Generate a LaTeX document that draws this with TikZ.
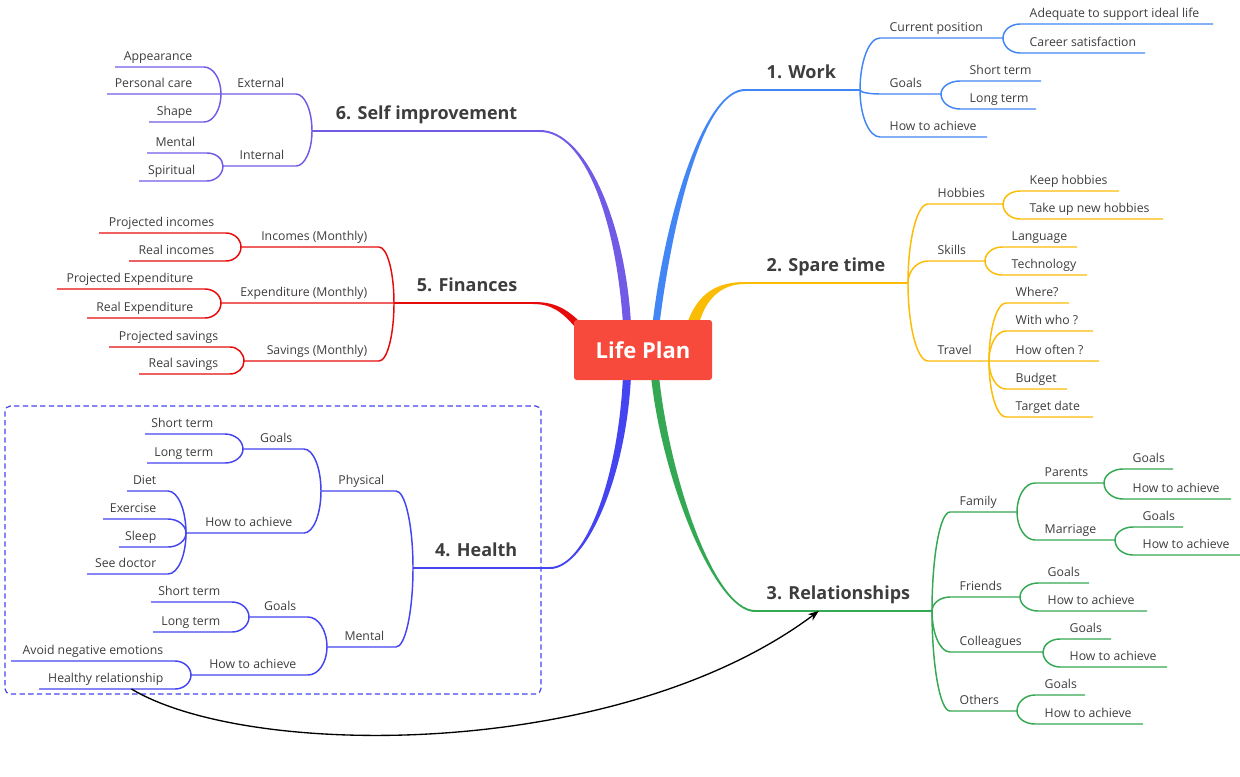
\documentclass[tikz,border=0pt]{standalone}
\usepackage{fontspec}
\setmainfont{Open Sans}
\usetikzlibrary{arrows.meta,calc,backgrounds}
\definecolor{txt}{RGB}{61,61,61}
\definecolor{hubred}{RGB}{248,74,60}
\definecolor{cwork}{RGB}{66,133,244}
\definecolor{cspare}{RGB}{251,188,5}
\definecolor{crel}{RGB}{52,168,83}
\definecolor{chealth}{RGB}{68,68,240}
\definecolor{cfin}{RGB}{230,10,10}
\definecolor{cself}{RGB}{115,90,230}

\begin{document}
\begin{tikzpicture}[x=0.75pt, y=-0.75pt, >=Stealth,
  rlbl/.style={anchor=base west, inner sep=0pt, text=txt, font=\fontsize{9.2}{11}\selectfont},
  llbl/.style={rlbl, anchor=base east},
  topic/.style={inner sep=0pt, text=txt, font=\fontsize{13.5}{16}\selectfont\bfseries},
  hub/.style={fill=hubred, text=white, rounded corners=2pt, minimum width=103.5pt,
    minimum height=45pt, font=\fontsize{16.5}{20}\selectfont\bfseries}]
\useasboundingbox (0,0) rectangle (1240,776);

% central topic
\node[hub] (root) at (643,350) {Life Plan};

% 1. Work
\begin{scope}[draw=cwork, line width=1.1pt]
\coordinate (work-a) at (745,90); \coordinate (work-b) at (860,90);
\node[topic, anchor=base west] (work) at (766,78) {1. Work};
\draw[line width=1.5pt] (work-a) -- (work-b);
\foreach \p/\n/\xa/\xb/\y/\t in {
  work/wcur/880/1003/38/Current position,
  work/wgoal/880/941/94/Goals,
  work/whow/880/987/137/How to achieve,
  wcur/wade/1020/1213/24/Adequate to support ideal life,
  wcur/wsat/1020/1145/53/Career satisfaction,
  wgoal/wshort/960/1041/81/Short term,
  wgoal/wlong/960/1036/109/Long term}{
  \coordinate (\n-a) at (\xa,\y); \coordinate (\n-b) at (\xb,\y);
  \node[rlbl] (\n) at (\xa+9,\y-7) {\t};
  \draw (\p-b) .. controls ($(\p-b)!0.55!(\p-b |- \n-a)$) and ($(\n-a)!0.55!(\p-b |- \n-a)$) .. (\n-a) -- (\n-b);
}
\end{scope}

% 2. Spare time
\begin{scope}[draw=cspare, line width=1.1pt]
\coordinate (spare-a) at (745,283); \coordinate (spare-b) at (908,283);
\node[topic, anchor=base west] (spare) at (766,271) {2. Spare time};
\draw[line width=1.5pt] (spare-a) -- (spare-b);
\foreach \p/\n/\xa/\xb/\y/\t in {
  spare/shob/928/1003/204/Hobbies,
  spare/sski/928/985/261/Skills,
  spare/stra/928/989/361/Travel,
  shob/skeep/1020/1119/191/Keep hobbies,
  shob/snew/1020/1163/219/Take up new hobbies,
  sski/slang/1002/1077/247/Language,
  sski/stech/1002/1087/275/Technology,
  stra/swhere/1006/1069/303/Where?,
  stra/swho/1006/1093/331/With who ?,
  stra/soften/1006/1099/361/How often ?,
  stra/sbudget/1006/1067/389/Budget,
  stra/sdate/1006/1093/417/Target date}{
  \coordinate (\n-a) at (\xa,\y); \coordinate (\n-b) at (\xb,\y);
  \node[rlbl] (\n) at (\xa+9,\y-7) {\t};
  \draw (\p-b) .. controls ($(\p-b)!0.55!(\p-b |- \n-a)$) and ($(\n-a)!0.55!(\p-b |- \n-a)$) .. (\n-a) -- (\n-b);
}
\end{scope}

% 3. Relationships
\begin{scope}[draw=crel, line width=1.1pt]
\coordinate (rel-a) at (755,611); \coordinate (rel-b) at (932,611);
\node[topic, anchor=base west] (rel) at (766,599) {3. Relationships};
\draw[line width=1.5pt] (rel-a) -- (rel-b);
\foreach \p/\n/\xa/\xb/\y/\t in {
  rel/rfam/950/1017/512/Family,
  rel/rfri/950/1020/597/Friends,
  rel/rcol/950/1043/652/Colleagues,
  rel/roth/950/1017/711/Others,
  rfam/rpar/1035/1104/483/Parents,
  rfam/rmar/1035/1115/540/Marriage,
  rpar/rpargoal/1123/1173/469/Goals,
  rpar/rparhow/1123/1231/499/How to achieve,
  rmar/rmargoal/1133/1183/527/Goals,
  rmar/rmarhow/1133/1240/555/How to achieve,
  rfri/rfrigoal/1038/1089/583/Goals,
  rfri/rfrihow/1038/1147/611/How to achieve,
  rcol/rcolgoal/1060/1111/639/Goals,
  rcol/rcolhow/1060/1167/667/How to achieve,
  roth/rothgoal/1035/1085/695/Goals,
  roth/rothhow/1035/1143/724/How to achieve}{
  \coordinate (\n-a) at (\xa,\y); \coordinate (\n-b) at (\xb,\y);
  \node[rlbl] (\n) at (\xa+9,\y-7) {\t};
  \draw (\p-b) .. controls ($(\p-b)!0.55!(\p-b |- \n-a)$) and ($(\n-a)!0.55!(\p-b |- \n-a)$) .. (\n-a) -- (\n-b);
}
\end{scope}

% 4. Health
\begin{scope}[draw=chealth, line width=1.1pt]
\coordinate (health-a) at (413,568); \coordinate (health-b) at (550,568);
\node[topic, anchor=base east] (health) at (518,556) {4. Health};
\draw[line width=1.5pt] (health-a) -- (health-b);
\foreach \p/\n/\xa/\xb/\y/\t in {
  health/hphy/321/396/491/Physical,
  health/hmen/327/396/647/Mental,
  hphy/hpgoal/243/304/449/Goals,
  hphy/hphow/186/304/533/How to achieve,
  hpgoal/hpshort/145/225/434/Short term,
  hpgoal/hplong/147/225/463/Long term,
  hphow/hpdiet/127/168/491/Diet,
  hphow/hpex/103/168/519/Exercise,
  hphow/hpsleep/119/168/547/Sleep,
  hphow/hpdoc/87/168/574/See doctor,
  hmen/hmgoal/249/308/617/Goals,
  hmen/hmhow/191/308/675/How to achieve,
  hmgoal/hmshort/151/232/602/Short term,
  hmgoal/hmlong/153/232/632/Long term,
  hmhow/hmavoid/11/175/661/Avoid negative emotions,
  hmhow/hmrel/39/175/689/Healthy relationship}{
  \coordinate (\n-a) at (\xa,\y); \coordinate (\n-b) at (\xb,\y);
  \node[llbl] (\n) at (\xb-11,\y-7) {\t};
  \draw (\p-a) .. controls ($(\p-a)!0.55!(\p-a |- \n-b)$) and ($(\n-b)!0.55!(\p-a |- \n-b)$) .. (\n-b) -- (\n-a);
}
\draw[line width=0.9pt, dash pattern=on 4pt off 2.5pt, rounded corners=4pt] (5,406) rectangle (541,694);
\end{scope}

% 5. Finances
\begin{scope}[draw=cfin, line width=1.1pt]
\coordinate (fin-a) at (394,303); \coordinate (fin-b) at (533,303);
\node[topic, anchor=base east] (fin) at (518,291) {5. Finances};
\draw[line width=1.5pt] (fin-a) -- (fin-b);
\foreach \p/\n/\xa/\xb/\y/\t in {
  fin/finc/241/379/247/Incomes (Monthly),
  fin/fexp/221/379/303/Expenditure (Monthly),
  fin/fsav/244/379/361/Savings (Monthly),
  finc/fpinc/99/226/233/Projected incomes,
  finc/frinc/129/226/261/Real incomes,
  fexp/fpexp/57/205/289/Projected Expenditure,
  fexp/frexp/87/205/318/Real Expenditure,
  fsav/fpsav/109/230/347/Projected savings,
  fsav/frsav/139/230/374/Real savings}{
  \coordinate (\n-a) at (\xa,\y); \coordinate (\n-b) at (\xb,\y);
  \node[llbl] (\n) at (\xb-11,\y-7) {\t};
  \draw (\p-a) .. controls ($(\p-a)!0.55!(\p-a |- \n-b)$) and ($(\n-b)!0.55!(\p-a |- \n-b)$) .. (\n-b) -- (\n-a);
}
\end{scope}

% 6. Self improvement
\begin{scope}[draw=cself, line width=1.1pt]
\coordinate (self-a) at (312,131); \coordinate (self-b) at (540,131);
\node[topic, anchor=base east] (self) at (518,119) {6. Self improvement};
\draw[line width=1.5pt] (self-a) -- (self-b);
\foreach \p/\n/\xa/\xb/\y/\t in {
  self/iext/221/296/94/External,
  self/iint/223/296/166/Internal,
  iext/iapp/115/204/67/Appearance,
  iext/icare/107/204/94/Personal care,
  iext/ishape/149/204/122/Shape,
  iint/iment/147/207/153/Mental,
  iint/ispir/139/207/181/Spiritual}{
  \coordinate (\n-a) at (\xa,\y); \coordinate (\n-b) at (\xb,\y);
  \node[llbl] (\n) at (\xb-11,\y-7) {\t};
  \draw (\p-a) .. controls ($(\p-a)!0.55!(\p-a |- \n-b)$) and ($(\n-b)!0.55!(\p-a |- \n-b)$) .. (\n-b) -- (\n-a);
}
\end{scope}

% thick tapered links from the central topic
\begin{pgfonlayer}{background}
\fill[cwork] ($(root.north)+(9.5,4)$) .. controls (666,210) and (705,89) .. ($(work-a)+(0,-1)$)
  -- ($(work-a)+(0,1)$) .. controls (705,91) and (674,210) .. ($(root.north)+(16.5,4)$) -- cycle;
\fill[cspare] ($(root.north)+(44,4)$) .. controls (698,292) and (718,282) .. ($(spare-a)+(0,-1)$)
  -- ($(spare-a)+(0,1)$) .. controls (722,284) and (706,298) .. ($(root.north)+(56,4)$) -- cycle;
\fill[crel] ($(root.south)+(8,-4)$) .. controls (662,480) and (715,612) .. ($(rel-a)+(0,1)$)
  -- ($(rel-a)+(0,-1)$) .. controls (715,610) and (670,480) .. ($(root.south)+(16,-4)$) -- cycle;
\fill[chealth] ($(root.south)+(-20,-4)$) .. controls (618,480) and (585,567) .. ($(health-b)+(0,-1)$)
  -- ($(health-b)+(0,1)$) .. controls (585,569) and (626,480) .. ($(root.south)+(-12,-4)$) -- cycle;
\fill[cfin] ($(root.north west)+(10,6)$) .. controls (565,306) and (552,302) .. ($(fin-b)+(0,-1)$)
  -- ($(fin-b)+(0,1)$) .. controls (552,304) and (562,312) .. ($(root.north west)+(2,8)$) -- cycle;
\fill[cself] ($(root.north)+(-20,4)$) .. controls (616,220) and (585,132) .. ($(self-b)+(0,1)$)
  -- ($(self-b)+(0,-1)$) .. controls (585,130) and (625,220) .. ($(root.north)+(-12,4)$) -- cycle;
\end{pgfonlayer}

% link from health to relationships
\coordinate (arr-s) at ($(hmrel-a)!0.68!(hmrel-b)$);
\coordinate (arr-e) at ($(rel-a)!0.36!(rel-b)$);
\draw[->, line width=1pt, >={Stealth[length=8pt,width=6pt]}] (arr-s) .. controls (250,760) and (620,760) .. (arr-e);
\end{tikzpicture}
\end{document}
